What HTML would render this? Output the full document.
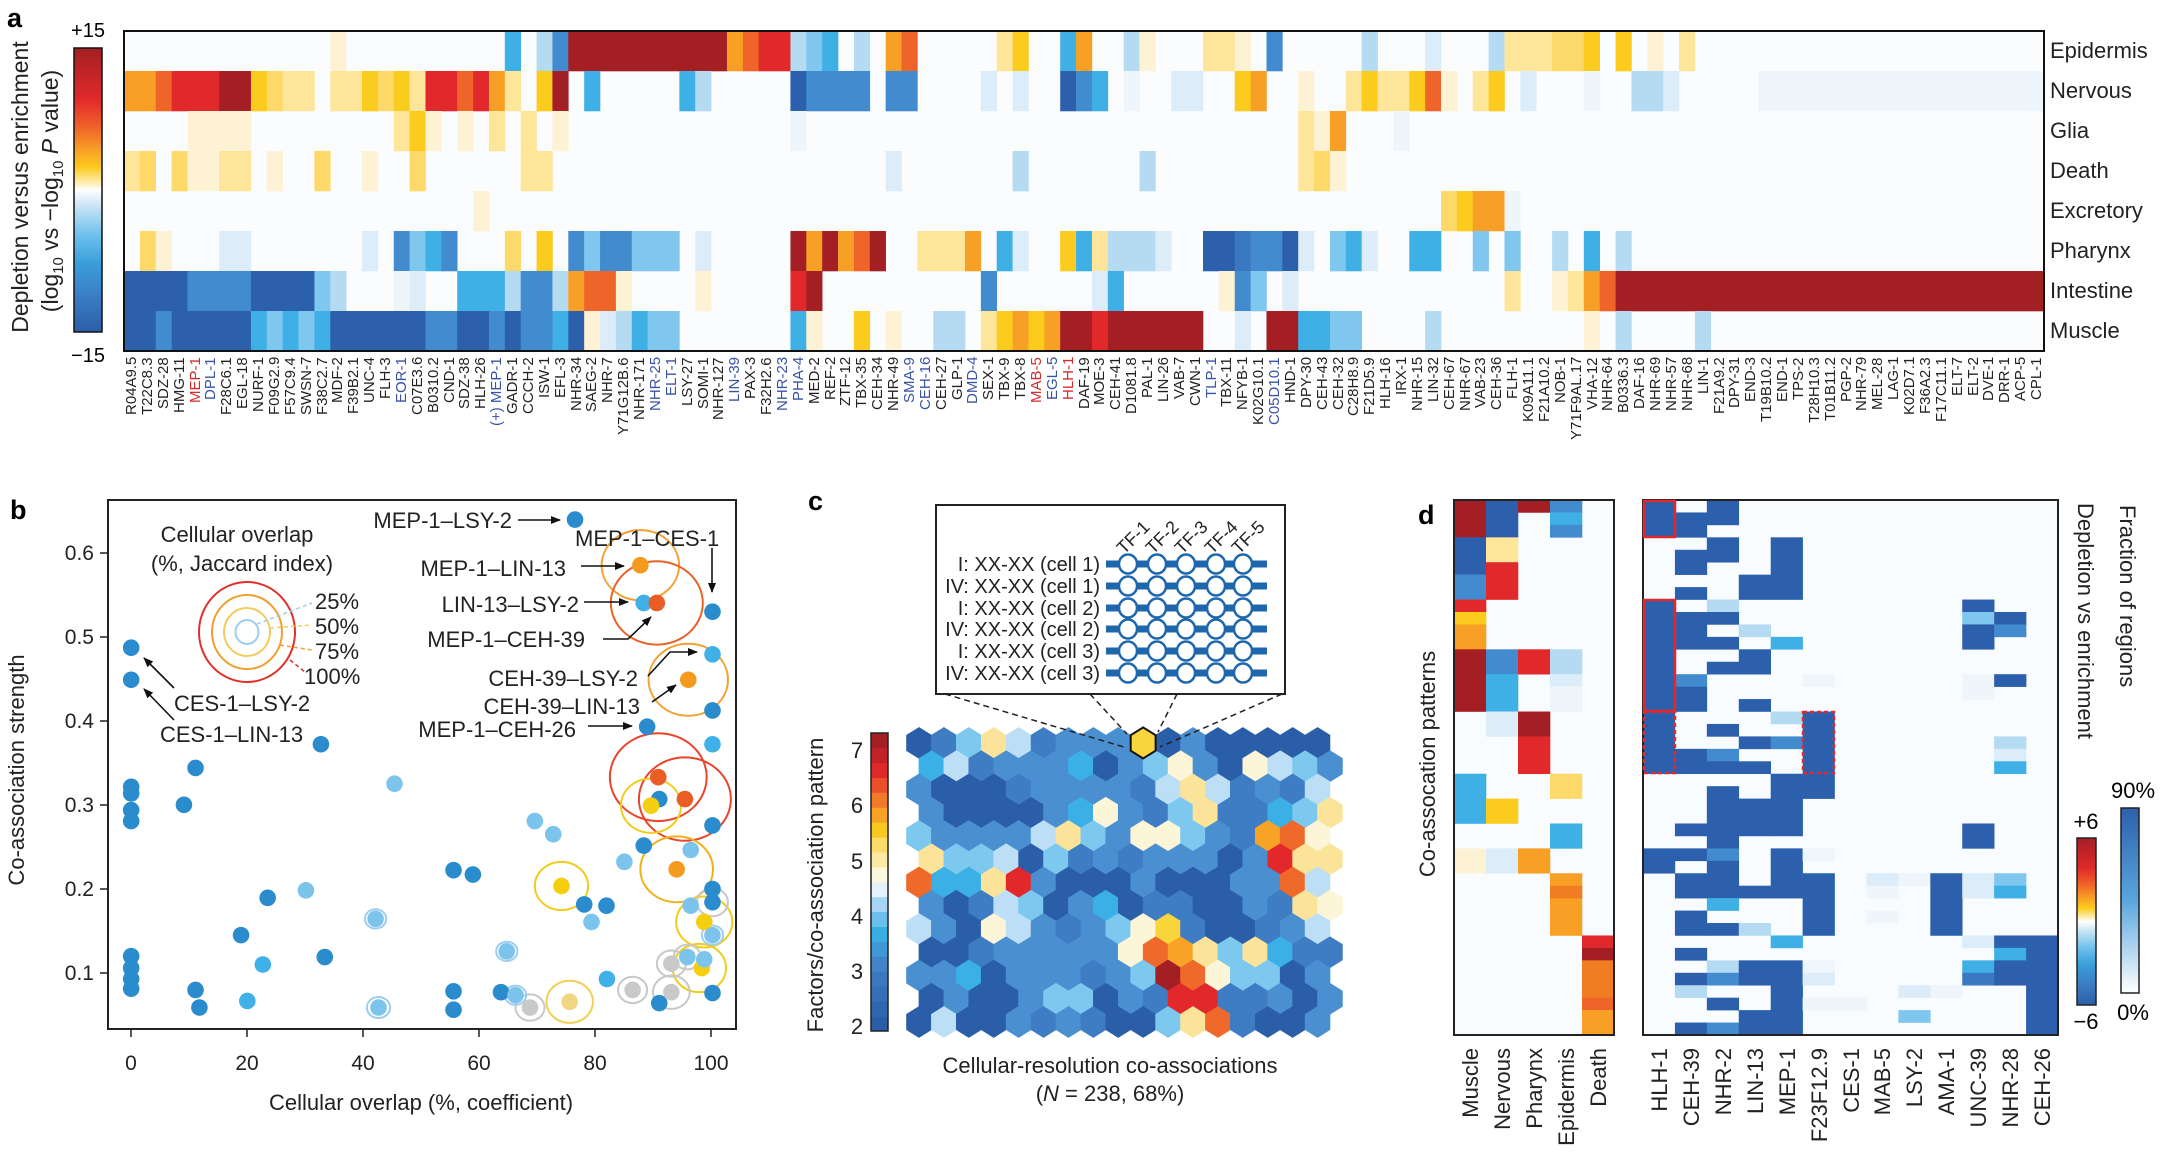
<!DOCTYPE html>
<html><head><meta charset="utf-8">
<style>
body{margin:0;background:#fff;width:2161px;height:1158px;overflow:hidden;font-family:"Liberation Sans",Arial,sans-serif;position:relative}
svg{position:absolute;left:0;top:0}
#lab{position:absolute;left:124px;top:357px;width:1920px;height:92px;display:flex}
#lab span{flex:1;writing-mode:vertical-rl;transform:rotate(180deg);text-align:end;font-size:15px;line-height:15.87px;white-space:nowrap;color:#222}
#lab .u{color:#3953a4}#lab .r{color:#d62b2b}
</style></head><body>
<svg id="s" width="2161" height="1158" xmlns="http://www.w3.org/2000/svg" font-family="Liberation Sans, Arial, sans-serif">
<defs>
<linearGradient id="ga" x1="0" y1="0" x2="0" y2="1">
<stop offset="0" stop-color="#a31f24"/><stop offset=".18" stop-color="#e1292b"/><stop offset=".28" stop-color="#f06428"/><stop offset=".36" stop-color="#f7a025"/><stop offset=".42" stop-color="#fbcb1e"/><stop offset=".48" stop-color="#fdf0c0"/><stop offset=".5" stop-color="#ffffff"/><stop offset=".55" stop-color="#cfe6f6"/><stop offset=".66" stop-color="#6cc0ec"/><stop offset=".76" stop-color="#3a9edb"/><stop offset=".88" stop-color="#3a7cc3"/><stop offset="1" stop-color="#2c5ea9"/>
</linearGradient>
<linearGradient id="gf" x1="0" y1="0" x2="0" y2="1"><stop offset="0" stop-color="#2c60ac"/><stop offset=".5" stop-color="#5aa6dd"/><stop offset="1" stop-color="#ffffff"/></linearGradient>
<marker id="ar" markerWidth="10" markerHeight="10" refX="9" refY="5" orient="auto" markerUnits="userSpaceOnUse"><path d="M0,1 L10,5 L0,9 z" fill="#111"/></marker>
</defs>
<g id="ga_cells"></g>
<rect x="124" y="31" width="1920" height="320" fill="none" stroke="#111" stroke-width="2"/>
<rect x="74" y="48" width="28" height="284" fill="url(#ga)" stroke="#111" stroke-width="1.5"/>
<text x="7" y="27" font-size="27" font-weight="bold">a</text>
<text x="88" y="37" font-size="20" text-anchor="middle">+15</text>
<text x="88" y="362" font-size="20" text-anchor="middle">−15</text>
<text transform="translate(28,187) rotate(-90)" text-anchor="middle" font-size="23" fill="#222">Depletion versus enrichment</text>
<text transform="translate(58,191) rotate(-90)" text-anchor="middle" font-size="23" fill="#222">(log<tspan font-size="15" dy="5">10</tspan><tspan dy="-5"> vs −log</tspan><tspan font-size="15" dy="5">10</tspan><tspan dy="-5"> </tspan><tspan font-style="italic">P</tspan> value)</text>
<g font-size="22" fill="#222">
<text x="2050" y="58">Epidermis</text><text x="2050" y="98">Nervous</text><text x="2050" y="138">Glia</text><text x="2050" y="178">Death</text><text x="2050" y="218">Excretory</text><text x="2050" y="258">Pharynx</text><text x="2050" y="298">Intestine</text><text x="2050" y="338">Muscle</text>
</g>

<!-- panel b -->
<text x="10" y="519" font-size="27" font-weight="bold">b</text>
<g id="bb"></g>
<rect x="108" y="500" width="628" height="529" fill="none" stroke="#222" stroke-width="2"/>
<g stroke="#222" stroke-width="1.5">
<line x1="131" y1="1029" x2="131" y2="1037"/><line x1="247" y1="1029" x2="247" y2="1037"/><line x1="363" y1="1029" x2="363" y2="1037"/><line x1="479" y1="1029" x2="479" y2="1037"/><line x1="595" y1="1029" x2="595" y2="1037"/><line x1="711" y1="1029" x2="711" y2="1037"/>
<line x1="100" y1="973" x2="108" y2="973"/><line x1="100" y1="889" x2="108" y2="889"/><line x1="100" y1="805" x2="108" y2="805"/><line x1="100" y1="721" x2="108" y2="721"/><line x1="100" y1="637" x2="108" y2="637"/><line x1="100" y1="553" x2="108" y2="553"/>
</g>
<g font-size="21" fill="#222" text-anchor="middle">
<text x="131" y="1070">0</text><text x="247" y="1070">20</text><text x="363" y="1070">40</text><text x="479" y="1070">60</text><text x="595" y="1070">80</text><text x="711" y="1070">100</text>
</g>
<g font-size="21" fill="#222" text-anchor="end">
<text x="94" y="980">0.1</text><text x="94" y="896">0.2</text><text x="94" y="812">0.3</text><text x="94" y="728">0.4</text><text x="94" y="644">0.5</text><text x="94" y="560">0.6</text>
</g>
<text x="421" y="1110" font-size="22" text-anchor="middle" fill="#222">Cellular overlap (%, coefficient)</text>
<text transform="translate(24,770) rotate(-90)" font-size="22" text-anchor="middle" fill="#222">Co-association strength</text>
<text x="237" y="542" font-size="22" text-anchor="middle" fill="#222">Cellular overlap</text>
<text x="242" y="571" font-size="22" text-anchor="middle" fill="#222">(%, Jaccard index)</text>
<g fill="none" stroke-width="2">
<ellipse cx="247" cy="632" rx="48" ry="50" stroke="#e0302a"/>
<ellipse cx="247" cy="632" rx="35" ry="37" stroke="#f0a030"/>
<ellipse cx="247" cy="632" rx="23" ry="24" stroke="#f2cc5a"/>
<ellipse cx="247" cy="632" rx="11.5" ry="12" stroke="#9fcdef"/>
</g>
<g stroke-dasharray="4,3" stroke-width="1.5" fill="none">
<line x1="257" y1="624" x2="312" y2="603" stroke="#9fcdef"/>
<line x1="270" y1="628" x2="312" y2="625" stroke="#f2cc5a"/>
<line x1="280" y1="645" x2="312" y2="650" stroke="#f0a030"/>
<line x1="290" y1="660" x2="305" y2="672" stroke="#e0302a"/>
</g>
<g font-size="22" fill="#222">
<text x="315" y="609">25%</text><text x="315" y="634">50%</text><text x="315" y="659">75%</text><text x="304" y="684">100%</text>
</g>
<g font-size="22" fill="#222">
<text x="512" y="528" text-anchor="end">MEP-1–LSY-2</text>
<text x="575" y="546">MEP-1–CES-1</text>
<text x="566" y="576" text-anchor="end">MEP-1–LIN-13</text>
<text x="579" y="612" text-anchor="end">LIN-13–LSY-2</text>
<text x="585" y="647" text-anchor="end">MEP-1–CEH-39</text>
<text x="638" y="686" text-anchor="end">CEH-39–LSY-2</text>
<text x="640" y="714" text-anchor="end">CEH-39–LIN-13</text>
<text x="576" y="737" text-anchor="end">MEP-1–CEH-26</text>
<text x="174" y="711">CES-1–LSY-2</text>
<text x="160" y="742">CES-1–LIN-13</text>
</g>
<g stroke="#111" stroke-width="1.6" fill="none" marker-end="url(#ar)">
<line x1="518" y1="520" x2="560" y2="520"/>
<line x1="712" y1="548" x2="712" y2="592"/>
<line x1="581" y1="566" x2="624" y2="566"/>
<line x1="584" y1="602" x2="628" y2="602"/>
<polyline points="603,639 628,639 651,617"/>
<polyline points="648,676 670,652 697,652"/>
<line x1="652" y1="702" x2="676" y2="685"/>
<line x1="588" y1="726" x2="632" y2="726"/>
<line x1="174" y1="688" x2="144" y2="658"/>
<line x1="174" y1="720" x2="144" y2="689"/>
</g>

<!-- panel c -->
<text x="808" y="510" font-size="27" font-weight="bold">c</text>
<rect x="936" y="505" width="349" height="189" fill="#fff" stroke="#222" stroke-width="2"/>
<g font-size="20" fill="#222" text-anchor="end">
<text x="1100" y="571">I: XX-XX (cell 1)</text><text x="1100" y="593">IV: XX-XX (cell 1)</text><text x="1100" y="615">I: XX-XX (cell 2)</text><text x="1100" y="636">IV: XX-XX (cell 2)</text><text x="1100" y="658">I: XX-XX (cell 3)</text><text x="1100" y="680">IV: XX-XX (cell 3)</text>
</g>
<g id="cc"></g>
<g font-size="18" fill="#222">
<text transform="translate(1124,555) rotate(-45)">TF-1</text><text transform="translate(1153,555) rotate(-45)">TF-2</text><text transform="translate(1182,555) rotate(-45)">TF-3</text><text transform="translate(1212,555) rotate(-45)">TF-4</text><text transform="translate(1239,555) rotate(-45)">TF-5</text>
</g>
<g id="hex"></g>
<g stroke="#222" stroke-width="1.5" stroke-dasharray="6,4" fill="none">
<line x1="945" y1="694" x2="1124" y2="747"/>
<line x1="1090" y1="694" x2="1127" y2="734"/>
<line x1="1177" y1="694" x2="1158" y2="732"/>
<line x1="1282" y1="694" x2="1160" y2="747"/>
</g>
<g id="hl"></g>
<g id="ccb"></g>
<g font-size="22" fill="#222" text-anchor="middle">
<text x="857" y="758">7</text><text x="857" y="813">6</text><text x="857" y="869">5</text><text x="857" y="924">4</text><text x="857" y="979">3</text><text x="857" y="1034">2</text>
</g>
<text transform="translate(823,885) rotate(-90)" font-size="22" text-anchor="middle" fill="#222">Factors/co-association pattern</text>
<text x="1110" y="1073" font-size="22" text-anchor="middle" fill="#222">Cellular-resolution co-associations</text>
<text x="1110" y="1101" font-size="22" text-anchor="middle" fill="#222">(<tspan font-style="italic">N</tspan> = 238, 68%)</text>

<!-- panel d -->
<text x="1418" y="524" font-size="27" font-weight="bold">d</text>
<g id="dl"></g><g id="dr"></g>
<rect x="1454" y="500" width="160" height="535" fill="none" stroke="#222" stroke-width="2"/>
<rect x="1643" y="500" width="415" height="535" fill="none" stroke="#222" stroke-width="2"/>
<g fill="none" stroke="#e0282e" stroke-width="2.5">
<rect x="1644" y="501" width="31" height="36"/>
<rect x="1644" y="600" width="31" height="111"/>
<rect x="1644" y="712" width="31" height="61" stroke-dasharray="4,3"/>
<rect x="1803" y="712" width="31" height="61" stroke-dasharray="4,3"/>
</g>
<text transform="translate(1435,764) rotate(-90)" font-size="22" text-anchor="middle" fill="#222">Co-assocation patterns</text>
<text transform="translate(2078,503) rotate(90)" font-size="22" fill="#222">Depletion vs enrichment</text>
<text transform="translate(2120,505) rotate(90)" font-size="22" fill="#222">Fraction of regions</text>
<rect x="2077" y="838" width="19" height="167" fill="url(#ga)" stroke="#222" stroke-width="1.5"/>
<rect x="2121" y="808" width="18" height="185" fill="url(#gf)" stroke="#222" stroke-width="1.5"/>
<text x="2086" y="829" font-size="22" text-anchor="middle">+6</text>
<text x="2086" y="1029" font-size="22" text-anchor="middle">−6</text>
<text x="2133" y="798" font-size="22" text-anchor="middle">90%</text>
<text x="2133" y="1020" font-size="22" text-anchor="middle">0%</text>
<g font-size="22" fill="#222" text-anchor="end">
<text transform="translate(1478,1048) rotate(-90)">Muscle</text><text transform="translate(1510,1048) rotate(-90)">Nervous</text><text transform="translate(1542,1048) rotate(-90)">Pharynx</text><text transform="translate(1574,1048) rotate(-90)">Epidermis</text><text transform="translate(1606,1048) rotate(-90)">Death</text>
<text transform="translate(1667,1048) rotate(-90)">HLH-1</text><text transform="translate(1699,1048) rotate(-90)">CEH-39</text><text transform="translate(1731,1048) rotate(-90)">NHR-2</text><text transform="translate(1763,1048) rotate(-90)">LIN-13</text><text transform="translate(1795,1048) rotate(-90)">MEP-1</text><text transform="translate(1827,1048) rotate(-90)">F23F12.9</text><text transform="translate(1859,1048) rotate(-90)">CES-1</text><text transform="translate(1890,1048) rotate(-90)">MAB-5</text><text transform="translate(1922,1048) rotate(-90)">LSY-2</text><text transform="translate(1954,1048) rotate(-90)">AMA-1</text><text transform="translate(1986,1048) rotate(-90)">UNC-39</text><text transform="translate(2018,1048) rotate(-90)">NHR-28</text><text transform="translate(2050,1048) rotate(-90)">CEH-26</text>
</g>
</svg>
<div id="lab"><span>R04A9.5</span><span>T22C8.3</span><span>SDZ-28</span><span>HMG-11</span><span class="r">MEP-1</span><span class="u">DPL-1</span><span>F28C6.1</span><span>EGL-18</span><span>NURF-1</span><span>F09G2.9</span><span>F57C9.4</span><span>SWSN-7</span><span>F38C2.7</span><span>MDF-2</span><span>F39B2.1</span><span>UNC-4</span><span>FLH-3</span><span class="u">EOR-1</span><span>C07E3.6</span><span>B0310.2</span><span>CND-1</span><span>SDZ-38</span><span>HLH-26</span><span class="u">(+) MEP-1</span><span>GADR-1</span><span>CCCH-2</span><span>ISW-1</span><span>EFL-3</span><span>NHR-34</span><span>SAEG-2</span><span>NHR-7</span><span>Y71G12B.6</span><span>NHR-171</span><span class="u">NHR-25</span><span class="u">ELT-1</span><span>LSY-27</span><span>SOMI-1</span><span>NHR-127</span><span class="u">LIN-39</span><span>PAX-3</span><span>F32H2.6</span><span class="u">NHR-23</span><span class="u">PHA-4</span><span>MED-2</span><span>REF-2</span><span>ZTF-12</span><span>TBX-35</span><span>CEH-34</span><span>NHR-49</span><span class="u">SMA-9</span><span class="u">CEH-16</span><span>CEH-27</span><span>GLP-1</span><span class="u">DMD-4</span><span>SEX-1</span><span>TBX-9</span><span>TBX-8</span><span class="r">MAB-5</span><span class="u">EGL-5</span><span class="r">HLH-1</span><span>DAF-19</span><span>MOE-3</span><span>CEH-41</span><span>D1081.8</span><span>PAL-1</span><span>LIN-26</span><span>VAB-7</span><span>CWN-1</span><span class="u">TLP-1</span><span>TBX-11</span><span>NFYB-1</span><span>K02G10.1</span><span class="u">C05D10.1</span><span>HND-1</span><span>DPY-30</span><span>CEH-43</span><span>CEH-32</span><span>C28H8.9</span><span>F21D5.9</span><span>HLH-16</span><span>IRX-1</span><span>NHR-15</span><span>LIN-32</span><span>CEH-67</span><span>NHR-67</span><span>VAB-23</span><span>CEH-36</span><span>FLH-1</span><span>K09A11.1</span><span>F21A10.2</span><span>NOB-1</span><span>Y71F9AL.17</span><span>VHA-12</span><span>NHR-64</span><span>B0336.3</span><span>DAF-16</span><span>NHR-69</span><span>NHR-57</span><span>NHR-68</span><span>LIN-1</span><span>F21A9.2</span><span>DPY-31</span><span>END-3</span><span>T19B10.2</span><span>END-1</span><span>TPS-2</span><span>T28H10.3</span><span>T01B11.2</span><span>PGP-2</span><span>NHR-79</span><span>MEL-28</span><span>LAG-1</span><span>K02D7.1</span><span>F36A2.3</span><span>F17C11.1</span><span>ELT-7</span><span>ELT-2</span><span>DVE-1</span><span>DRR-1</span><span>ACP-5</span><span>CPL-1</span></div>
<script>
const NS='http://www.w3.org/2000/svg';
function el(p,t,a){const e=document.createElementNS(NS,t);for(const k in a)e.setAttribute(k,a[k]);p.appendChild(e);return e;}
const P={'.':'#fbfcfe','e':'#eef5fb','l':'#dcecf8','b':'#b5dbf3','c':'#7fc7ef','C':'#3eb0e6','B':'#428bcf','M':'#3a78c2','D':'#2c60ac','f':'#fef2d4','y':'#fde59a','k':'#fcd968','Y':'#fbcb1e','o':'#f7a025','q':'#f07d22','O':'#ef6428','r':'#e1292b','R':'#a31f24','w':'#fdf5d8'};
const A=[
[[13,13,'f'],[24,24,'C'],[26,26,'b'],[27,27,'B'],[28,37,'R'],[38,38,'o'],[39,39,'O'],[40,41,'r'],[42,42,'b'],[43,43,'c'],[44,44,'C'],[46,46,'b'],[48,48,'o'],[49,49,'O'],[55,55,'y'],[56,56,'Y'],[59,59,'C'],[60,60,'o'],[63,63,'b'],[64,64,'f'],[68,69,'y'],[70,70,'f'],[72,72,'B'],[78,78,'b'],[82,82,'l'],[86,86,'b'],[87,89,'y'],[90,91,'k'],[92,92,'Y'],[94,94,'Y'],[96,96,'f'],[98,98,'y']],
[[0,1,'o'],[2,2,'O'],[3,5,'r'],[6,7,'R'],[8,8,'Y'],[9,9,'k'],[10,11,'y'],[13,14,'y'],[15,15,'Y'],[16,16,'k'],[17,17,'Y'],[18,18,'y'],[19,20,'r'],[21,21,'O'],[22,22,'r'],[23,23,'o'],[24,24,'y'],[26,26,'Y'],[27,27,'R'],[29,29,'C'],[35,35,'C'],[36,36,'b'],[42,42,'D'],[43,46,'B'],[48,49,'B'],[54,54,'l'],[56,56,'l'],[59,59,'D'],[60,60,'B'],[61,61,'C'],[63,63,'e'],[66,67,'l'],[70,70,'Y'],[71,71,'o'],[74,74,'f'],[77,77,'y'],[78,78,'Y'],[79,80,'y'],[81,81,'Y'],[82,82,'O'],[83,83,'f'],[85,85,'y'],[86,86,'Y'],[88,88,'l'],[92,92,'e'],[95,96,'b'],[97,97,'l'],[103,120,'e']],
[[4,7,'f'],[17,17,'y'],[18,18,'Y'],[19,19,'f'],[21,21,'f'],[23,23,'y'],[25,25,'y'],[27,27,'f'],[42,42,'e'],[74,74,'y'],[75,75,'f'],[76,76,'o'],[80,80,'e']],
[[0,0,'y'],[1,1,'k'],[3,3,'k'],[4,5,'f'],[6,7,'y'],[9,9,'f'],[12,12,'k'],[15,15,'f'],[18,18,'k'],[25,26,'y'],[48,48,'l'],[56,56,'b'],[64,64,'b'],[74,74,'y'],[75,75,'k'],[76,76,'f']],
[[22,22,'f'],[83,83,'k'],[84,84,'Y'],[85,86,'o'],[87,87,'e']],
[[1,1,'k'],[2,2,'f'],[6,7,'l'],[15,15,'l'],[17,17,'B'],[18,18,'c'],[19,19,'C'],[20,20,'B'],[24,24,'k'],[26,26,'Y'],[28,28,'B'],[29,29,'c'],[30,31,'B'],[32,34,'c'],[36,36,'l'],[42,42,'R'],[43,43,'o'],[44,44,'R'],[45,45,'o'],[46,46,'O'],[47,47,'R'],[50,52,'y'],[53,53,'o'],[55,55,'C'],[56,56,'l'],[59,59,'Y'],[60,60,'C'],[61,61,'y'],[62,64,'b'],[65,65,'l'],[68,69,'D'],[70,70,'M'],[71,72,'B'],[73,73,'D'],[74,74,'l'],[76,76,'c'],[77,77,'C'],[78,78,'l'],[81,82,'C'],[85,85,'c'],[87,87,'c'],[90,90,'b'],[92,92,'C'],[94,94,'b']],
[[0,3,'D'],[4,7,'B'],[8,11,'D'],[12,12,'c'],[13,13,'b'],[17,17,'e'],[18,18,'l'],[21,23,'C'],[24,24,'b'],[25,26,'B'],[27,27,'b'],[28,28,'o'],[29,30,'O'],[31,31,'f'],[36,36,'f'],[42,42,'r'],[43,43,'R'],[54,54,'B'],[61,61,'l'],[62,62,'C'],[69,69,'f'],[70,70,'B'],[71,71,'c'],[73,73,'l'],[87,87,'y'],[90,90,'f'],[91,91,'y'],[92,92,'o'],[93,93,'O'],[94,120,'R']],
[[0,1,'D'],[2,2,'B'],[3,7,'D'],[8,8,'C'],[9,9,'c'],[10,10,'C'],[11,11,'c'],[12,12,'C'],[13,18,'D'],[19,20,'B'],[21,22,'D'],[23,23,'B'],[24,24,'D'],[25,26,'B'],[27,27,'C'],[28,28,'D'],[29,29,'f'],[30,30,'l'],[31,31,'b'],[32,32,'C'],[33,34,'c'],[42,42,'C'],[43,43,'f'],[46,46,'Y'],[48,48,'f'],[51,52,'b'],[54,54,'y'],[55,55,'Y'],[56,56,'o'],[57,57,'Y'],[58,58,'o'],[59,67,'R'],[61,61,'r'],[70,70,'l'],[72,73,'R'],[74,75,'C'],[76,77,'c'],[82,82,'b'],[92,92,'f'],[94,94,'b'],[99,99,'b']]];
const ga=document.getElementById('ga_cells');const cw=1920/121;
el(ga,'rect',{x:124,y:31,width:1920,height:320,fill:P['.']});
A.forEach((row,r)=>row.forEach(([a,b,c])=>el(ga,'rect',{x:124+a*cw,y:31+r*40,width:(b-a+1)*cw+0.3,height:40.3,fill:P[c]})));
const bb=document.getElementById('bb');
const X=z=>z/2.066,Y=z=>470+z/2.279;
const rings=[[1323,217,80,'#f2a232'],[1357,303,95,'#e8632a'],[1422,478,82,'#f2a232'],[1360,700,100,'#e8452a'],[1415,750,95,'#e8452a'],[1345,765,62,'#f2cc1a'],[1398,910,75,'#f2b01a'],[1160,948,55,'#f2cc1a'],[1455,1030,58,'#f2cc1a'],[1445,1135,55,'#f2cc1a'],[1177,1212,48,'#f2d05a'],[1307,1185,30,'#c8c8c8'],[1387,1190,38,'#c8c8c8'],[1387,1125,30,'#c8c8c8'],[1472,985,32,'#c8c8c8'],[1095,1225,30,'#c8c8c8'],[1420,1110,28,'#c8c8c8'],[776,1023,22,'#9fcdef'],[782,1225,24,'#9fcdef'],[1047,1097,22,'#9fcdef'],[1065,1197,22,'#9fcdef'],[1472,1060,22,'#9fcdef']];
rings.forEach(([x,y,r,c])=>el(bb,'ellipse',{cx:X(x),cy:Y(y),rx:r/2.066,ry:r/2.279,fill:'none',stroke:c,'stroke-width':2}));
const BC={D:'#2a8bcd',C:'#40b0e8',c:'#7cc4ec',Y:'#f5cf0f',o:'#f59a1e',O:'#ea5d25',g:'#c9c9c9',y:'#f0d680'};
const dots=[[1188,113,'D'],[1323,217,'o'],[1330,303,'C'],[1357,303,'O'],[1472,323,'D'],[1472,420,'C'],[1422,478,'o'],[1472,548,'D'],[1337,585,'D'],[1472,625,'C'],[271,405,'D'],[271,478,'D'],[663,625,'D'],[404,679,'D'],[815,715,'c'],[271,722,'D'],[271,737,'D'],[271,775,'D'],[271,800,'D'],[380,763,'D'],[1360,700,'O'],[1362,750,'D'],[1345,765,'Y'],[1415,750,'O'],[1472,810,'D'],[1105,800,'c'],[1143,830,'c'],[1330,856,'D'],[1427,866,'c'],[1290,893,'c'],[1398,910,'o'],[937,912,'D'],[977,922,'D'],[1160,948,'Y'],[632,958,'c'],[553,975,'D'],[1207,990,'D'],[1253,993,'D'],[1222,1030,'c'],[1472,955,'D'],[1472,985,'D'],[1427,993,'c'],[776,1023,'c'],[498,1060,'D'],[1455,1030,'Y'],[1472,1060,'c'],[271,1108,'D'],[271,1135,'D'],[271,1160,'D'],[271,1182,'D'],[543,1127,'C'],[671,1110,'D'],[1047,1097,'c'],[404,1185,'D'],[412,1225,'D'],[511,1210,'C'],[782,1225,'c'],[937,1188,'D'],[937,1230,'D'],[1035,1190,'D'],[1065,1197,'c'],[1095,1225,'g'],[1177,1212,'y'],[1254,1160,'C'],[1307,1185,'g'],[1362,1215,'D'],[1387,1190,'g'],[1387,1125,'g'],[1420,1110,'c'],[1450,1135,'Y'],[1455,1115,'c'],[1472,1192,'D']];
dots.forEach(([x,y,c])=>el(bb,'circle',{cx:X(x),cy:Y(y),r:8.3,fill:BC[c]}));
const cc=document.getElementById('cc');
[564,586,608,629,651,673].forEach(y=>{el(cc,'rect',{x:1106,y:y-3.5,width:161,height:7,fill:'#1f67ad'});[1128,1157,1186,1216,1243].forEach(x=>el(cc,'ellipse',{cx:x,cy:y,rx:9,ry:9.5,fill:'#fff',stroke:'#1f67ad','stroke-width':2.5}));});
const HC={D:'#2b5ea8',M:'#3e7cc4',B:'#4a8fd0',C:'#3bb0e6',c:'#7dc8ef',b:'#bcdff5',w:'#fdf5d8',y:'#fbe49a',Y:'#f9d53c',o:'#f7a326',O:'#ef6a2a',r:'#e2282a',R:'#a31f24'};
const HG=['DMcybMBBBYDBDDDDD','CbMBBBCDBcwBDwbcB','BDDDMBBBBMbybMBMb','BDDDDBCwBMcyMMCcy','cBBBBbycBwwcBMoOw','yccbDcMBMBBBDBryy','OCCyrBDDDBDDDBBOb','BDMbcDBCDMMDDBMyw','bBDwbBMBcwYMDDMBb','DDMBBBBBwOoycyCMM','BBCDBBBMBcROwccDB','DBDDBccDBMrrMMBDB','DbDDBMBMDDcyOMDDB'];
const hx=document.getElementById('hex');const R=15.5,hw=12.46;
function hexp(cx,cy){return [[cx,cy-R],[cx+hw,cy-R/2],[cx+hw,cy+R/2],[cx,cy+R],[cx-hw,cy+R/2],[cx-hw,cy-R/2]].map(p=>p.join(',')).join(' ');}
HG.forEach((row,r)=>{for(let c=0;c<17;c++){const zx=402+63*c+(r%2?31.5:0);const cx=760+zx/2.529,cy=470+(622+53*r)/2.279;el(hx,'polygon',{points:hexp(cx,cy),fill:HC[row[c]],stroke:HC[row[c]],'stroke-width':0.6});}});
{const cx=760+969/2.529,cy=470+622/2.279;el(document.getElementById('hl'),'polygon',{points:hexp(cx,cy),fill:'#f9d53c',stroke:'#111','stroke-width':2});}
const cb=document.getElementById('ccb');const steps=['#2b5ea8','#2f66b0','#356fb8','#3b78c0','#4284c8','#3f98d8','#3bade5','#6ac0ed','#a6d6f3','#e4f1fa','#fdf6de','#fce9a6','#fbdb6a','#f9c81e','#f7a326','#f07a2a','#ea4f2a','#e0282a','#c02226','#a31f24'];
const cbt=733,cbb=1031,sh=(cbb-cbt)/20;steps.forEach((c,i)=>el(cb,'rect',{x:871,y:cbb-(i+1)*sh,width:17,height:sh+0.3,fill:c}));
el(cb,'rect',{x:871,y:cbt,width:17,height:cbb-cbt,fill:'none',stroke:'#222','stroke-width':1.5});
const rh=535/43;
const DL=[[[0,2,'R'],[3,5,'D'],[6,7,'B'],[8,8,'r'],[9,9,'Y'],[10,11,'o'],[12,16,'R'],[22,25,'C'],[28,29,'f']],
[[0,2,'D'],[3,4,'y'],[5,7,'r'],[12,13,'B'],[14,16,'C'],[17,18,'l'],[24,25,'Y'],[28,29,'l']],
[[0,0,'R'],[12,13,'r'],[17,18,'R'],[19,21,'r'],[28,29,'o']],
[[0,0,'B'],[1,1,'C'],[2,2,'B'],[12,13,'b'],[14,14,'l'],[15,16,'e'],[22,23,'k'],[26,27,'C'],[30,34,'o'],[31,31,'q']],
[[35,35,'r'],[36,36,'R'],[37,39,'q'],[40,40,'O'],[41,42,'o']]];
const DR=[[[0,2,'D'],[8,21,'D'],[28,29,'D']],
[[1,2,'D'],[4,5,'D'],[7,7,'D'],[9,11,'D'],[14,14,'B'],[15,16,'D'],[20,21,'D'],[26,26,'D'],[28,28,'D'],[30,31,'D'],[33,34,'D'],[36,36,'D'],[38,38,'D'],[39,39,'b'],[42,42,'D']],
[[0,1,'D'],[3,4,'D'],[8,8,'b'],[9,9,'D'],[11,11,'D'],[13,13,'D'],[18,18,'D'],[20,20,'B'],[21,21,'D'],[23,27,'D'],[28,28,'B'],[29,31,'D'],[32,32,'C'],[34,34,'D'],[37,37,'b'],[38,38,'B'],[40,40,'D'],[42,42,'B']],
[[6,7,'D'],[10,10,'b'],[12,13,'D'],[16,16,'D'],[19,19,'D'],[21,21,'D'],[24,26,'D'],[31,31,'D'],[34,34,'b'],[37,38,'D'],[41,42,'D']],
[[3,7,'D'],[11,11,'C'],[17,17,'b'],[19,19,'B'],[22,26,'D'],[28,31,'D'],[35,35,'C'],[37,42,'D']],
[[14,14,'e'],[17,23,'D'],[28,28,'e'],[30,34,'D'],[37,37,'e'],[38,38,'l'],[40,40,'e']],
[[40,40,'e']],
[[30,30,'l'],[31,31,'e'],[33,33,'e']],
[[30,30,'e'],[39,39,'l'],[41,41,'c']],
[[30,34,'D'],[39,39,'e']],
[[8,8,'D'],[9,9,'c'],[10,11,'D'],[14,15,'e'],[26,27,'D'],[30,31,'l'],[35,35,'l'],[37,37,'C'],[38,38,'M']],
[[9,9,'D'],[10,10,'B'],[14,14,'D'],[19,19,'b'],[20,20,'l'],[21,21,'C'],[30,30,'c'],[31,31,'C'],[35,35,'D'],[36,36,'C'],[37,38,'D']],
[[35,42,'D']]];
function drawD(g,data,x0,w){el(g,'rect',{x:x0,y:500,width:w*data.length,height:535,fill:'#f9fcfe'});data.forEach((col,i)=>col.forEach(([a,b,c])=>el(g,'rect',{x:x0+i*w,y:500+a*rh,width:w+0.3,height:(b-a+1)*rh+0.3,fill:P[c]})));}
drawD(document.getElementById('dl'),DL,1454,32);
drawD(document.getElementById('dr'),DR,1643,415/13);
</script>
</body></html>
